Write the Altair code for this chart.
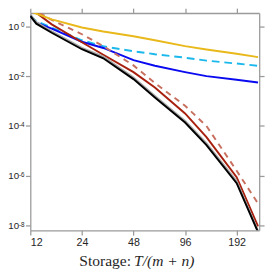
import altair as alt
import pandas as pd

# x positions (storage ratio)
x_vals = [12, 13, 16, 24, 32, 48, 64, 96, 128, 192, 256]

yellow = [3.98, 3.25, 1.9, 0.89, 0.62, 0.40, 0.275, 0.16, 0.117, 0.079, 0.058]
cyan = [2.6, 1.6, 0.89, 0.275, 0.158, 0.10, 0.076, 0.055, 0.042, 0.032, 0.026]
blue = [2.6, 1.4, 0.81, 0.24, 0.135, 0.044, 0.026, 0.0145, 0.010, 0.0072, 0.0056]
red = [6.5, 3.5, 1.2, 0.229, 0.072, 0.0145, 0.0035, 3.2e-4, 3.6e-5, 8.9e-7, 9.5e-9]
red_dash = [5.6, 4.0, 1.8, 0.48, 0.16, 0.027, 0.0053, 6.5e-4, 1.0e-4, 1.6e-6, 7.8e-8]
gray = [2.95, 1.45, 0.62, 0.135, 0.060, 0.0088, 0.0016, 1.6e-4, 2.0e-5, 6.0e-7, 6.0e-9]
black = [2.6, 1.27, 0.55, 0.12, 0.052, 0.0076, 0.0014, 1.38e-4, 1.7e-5, 5.1e-7, 5.5e-9]

x_ticks = [12, 24, 48, 96, 192]
y_ticks = [1, 1e-2, 1e-4, 1e-6, 1e-8]
y_tick_base = "10"
y_tick_exps = ["0", "-2", "-4", "-6", "-8"]

x_domain = [12, 260]
y_domain = [6.56e-9, 3.41]

axis_color = "#9a9a9a"
label_color = "#262626"

xs = alt.Scale(type="log", base=2, domain=x_domain, nice=False)
ys = alt.Scale(type="log", domain=y_domain, nice=False)


def series(vals, color, dash=None, width=2.0, axes=None):
    df = pd.DataFrame({"x": x_vals, "y": vals})
    kw = dict(color=color, strokeWidth=width, clip=True)
    if dash:
        kw["strokeDash"] = dash
    if axes == "main":
        xa = alt.Axis(values=x_ticks, orient="bottom", title=None, grid=False,
                      labelFont="Liberation Sans", labelFontSize=11, labelColor=label_color,
                      domainColor=axis_color, tickColor=axis_color, domainWidth=1.3,
                      tickWidth=1.3, tickSize=5, labelPadding=2)
        ya = alt.Axis(values=y_ticks, orient="left", title=None, grid=False,
                      labelExpr=f"'{y_tick_base}'", labelFont="Liberation Sans",
                      labelFontSize=10, labelColor=label_color, domainColor=axis_color,
                      tickColor=axis_color, domainWidth=1.3, tickWidth=1.3, tickSize=5,
                      labelPadding=7, labelBaseline="middle")
    elif axes == "mirror":
        xa = alt.Axis(values=x_ticks, orient="top", title=None, grid=False, labels=False,
                      domainColor=axis_color, tickColor=axis_color, domainWidth=1.3,
                      tickWidth=1.3, tickSize=5)
        ya = alt.Axis(values=y_ticks, orient="right", title=None, grid=False, labels=False,
                      domainColor=axis_color, tickColor=axis_color, domainWidth=1.3,
                      tickWidth=1.3, tickSize=5)
    else:
        xa = None
        ya = None
    return alt.Chart(df).mark_line(**kw).encode(
        x=alt.X("x:Q", scale=xs, axis=xa),
        y=alt.Y("y:Q", scale=ys, axis=ya),
    )


layers = [
    series(cyan, "#1BB8EC", dash=[8, 5], axes="mirror"),
    series(blue, "#0A0AF0"),
    series(red_dash, "#C8705F", dash=[6, 5]),
    series(red, "#A8200E"),
    series(gray, "#A6A6A6", width=2.2),
    series(black, "#000000"),
    series(yellow, "#E9B81A", axes="main"),
]

exps = alt.Chart(pd.DataFrame({"v": y_ticks, "e": y_tick_exps})).mark_text(
    font="Liberation Sans", fontSize=6.5, align="right", baseline="alphabetic",
    color=label_color, dy=1
).encode(
    y=alt.Y("v:Q", scale=ys, axis=None),
    x=alt.value(-6),
    text="e:N",
)

title_a = alt.Chart(pd.DataFrame({"t": ["Storage:"]})).mark_text(
    font="Liberation Serif", fontSize=16, align="left", baseline="alphabetic", color=label_color
).encode(text="t:N", x=alt.value(50.5), y=alt.value(261))
title_b = alt.Chart(pd.DataFrame({"t": ["T/(m + n)"]})).mark_text(
    font="Liberation Serif", fontSize=16, fontStyle="italic", align="left",
    baseline="alphabetic", color=label_color
).encode(text="t:N", x=alt.value(107), y=alt.value(261))

chart = alt.layer(*layers, exps, title_a, title_b).resolve_axis(
    x="independent", y="independent"
).properties(
    width=236, height=224,
    autosize=alt.AutoSizeParams(type="none"),
    padding={"left": 23, "top": 1, "right": 7, "bottom": 44},
).configure_view(stroke=None)

chart.save("out.html", embed_options={"renderer": "svg", "actions": False})
